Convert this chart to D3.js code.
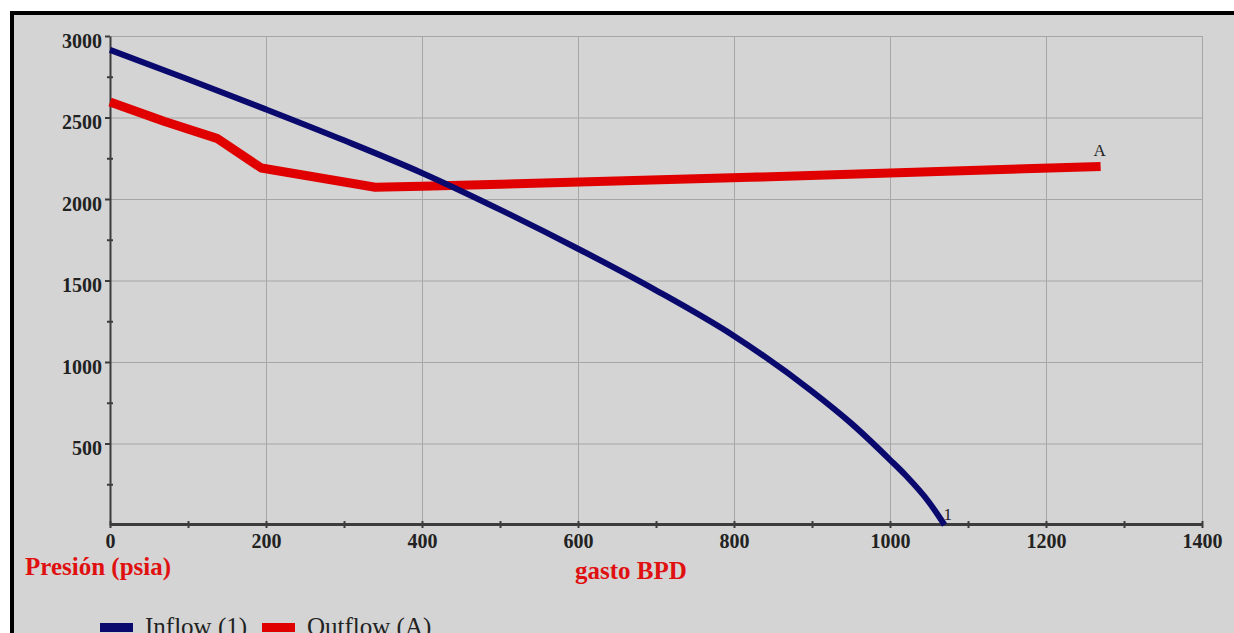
<!DOCTYPE html>
<html>
<head>
<meta charset="utf-8">
<script src="https://cdn.jsdelivr.net/npm/d3@7"></script>
<style>
  body { margin: 0; background: #fff; }
  svg { display: block; }
  .axis path, .axis line { stroke: #3c3c3c; }
  .grid line { stroke: #a6a6a6; stroke-width: 1; }
  .grid path { stroke: none; }
  text { font-family: "Liberation Serif", "Times New Roman", serif; }
</style>
</head>
<body>
<svg id="chart" width="1234" height="633"></svg>
<script>
// inflow curve (IPR) - gasto BPD vs presion psia
var inflowQ = [0, 100, 200, 300, 400, 500, 600, 700, 800, 900, 950, 1000, 1020, 1050, 1070];
var inflowP = [2915, 2735, 2550, 2360, 2160, 1935, 1695, 1440, 1160, 820, 625, 400, 305, 140, 0];

// outflow curve
var outflowQ = [0, 70, 137, 194, 340, 400, 820, 1270];
var outflowP = [2595, 2475, 2372, 2190, 2072, 2078, 2133, 2200];

var xTicks = [0, 200, 400, 600, 800, 1000, 1200, 1400];
var xMinor = [100, 300, 500, 700, 900, 1100, 1300];
var yTicks = [500, 1000, 1500, 2000, 2500, 3000];
var yMinor = [250, 750, 1250, 1750, 2250, 2750];

var svg = d3.select("#chart");

// background and frame
svg.append("rect").attr("x", 14).attr("y", 15).attr("width", 1220).attr("height", 618).attr("fill", "#d4d4d4");
svg.append("rect").attr("x", 10).attr("y", 11).attr("width", 1224).attr("height", 4).attr("fill", "#000");
svg.append("rect").attr("x", 10).attr("y", 11).attr("width", 4).attr("height", 622).attr("fill", "#000");

var x = d3.scaleLinear().domain([0, 1400]).range([110, 1202]);
var y = d3.scaleLinear().domain([0, 3000]).range([525, 36]);
var fmt = d3.format("d");

// grid
svg.append("g")
    .attr("class", "grid")
    .attr("transform", "translate(0,525)")
    .call(d3.axisBottom(x).tickValues(xTicks.slice(1)).tickSize(-489).tickFormat(""));
svg.append("g")
    .attr("class", "grid")
    .attr("transform", "translate(110,0)")
    .call(d3.axisLeft(y).tickValues(yTicks).tickSize(-1092).tickFormat(""));

// y axis
var yAxis = svg.append("g")
    .attr("class", "axis")
    .attr("transform", "translate(110,0)")
    .call(d3.axisLeft(y).tickValues(yTicks).tickSizeInner(5).tickSizeOuter(0).tickPadding(3).tickFormat(fmt));
yAxis.select(".domain").attr("stroke-width", 2);
yAxis.selectAll("line").attr("stroke-width", 2);
yAxis.selectAll("text")
    .attr("font-size", 20).attr("font-weight", "bold").attr("fill", "#222")
    .attr("dy", "0.55em");

svg.append("g")
    .attr("class", "axis")
    .attr("transform", "translate(113,0)")
    .call(d3.axisLeft(y).tickValues(yMinor).tickSize(6).tickFormat(""))
    .call(function(g) { g.select(".domain").remove(); })
    .selectAll("line").attr("stroke-width", 2);

// x axis
var xAxis = svg.append("g")
    .attr("class", "axis")
    .attr("transform", "translate(0,524)")
    .call(d3.axisBottom(x).tickValues(xTicks).tickSizeInner(4).tickSizeOuter(0).tickPadding(6).tickFormat(fmt));
xAxis.select(".domain").attr("stroke-width", 3);
xAxis.selectAll("line").attr("stroke-width", 2).attr("y1", -3);
xAxis.selectAll("text")
    .attr("font-size", 20).attr("font-weight", "bold").attr("fill", "#222");

svg.append("g")
    .attr("class", "axis")
    .attr("transform", "translate(0,521)")
    .call(d3.axisBottom(x).tickValues(xMinor).tickSize(7).tickFormat(""))
    .call(function(g) { g.select(".domain").remove(); })
    .selectAll("line").attr("stroke-width", 2);

// curves
var line = d3.line()
    .x(function(d) { return x(d[0]); })
    .y(function(d) { return y(d[1]); })
    .curve(d3.curveMonotoneX);

var inflow = inflowQ.map(function(q, i) { return [q, inflowP[i]]; });
var outflow = outflowQ.map(function(q, i) { return [q, outflowP[i]]; });

svg.append("path")
    .datum(outflow)
    .attr("d", d3.line().x(function(d) { return x(d[0]); }).y(function(d) { return y(d[1]); }))
    .attr("fill", "none")
    .attr("stroke", "#e00000")
    .attr("stroke-width", 9)
    .attr("stroke-linejoin", "round");

svg.append("path")
    .datum(inflow)
    .attr("d", line)
    .attr("fill", "none")
    .attr("stroke", "#0a0a6e")
    .attr("stroke-width", 6);

// curve labels
var lastIn = inflow[inflow.length - 1];
var lastOut = outflow[outflow.length - 1];
svg.append("text")
    .attr("x", x(lastIn[0]) - 1).attr("y", y(lastIn[1]) - 5)
    .attr("font-size", 17).attr("fill", "#222").text("1");
svg.append("text")
    .attr("x", x(lastOut[0]) - 1).attr("y", y(lastOut[1]) - 10)
    .attr("text-anchor", "middle")
    .attr("font-size", 17).attr("fill", "#222").text("A");

// axis titles
svg.append("text")
    .attr("x", 25).attr("y", 575)
    .attr("font-size", 25).attr("font-weight", "bold").attr("fill", "#e01010")
    .text("Presión (psia)");
svg.append("text")
    .attr("x", 575).attr("y", 579)
    .attr("font-size", 25).attr("font-weight", "bold").attr("fill", "#e01010")
    .text("gasto BPD");

// legend (cut by the bottom edge, as in the original)
var legend = [
  { name: "Inflow (1)", color: "#0a0a6e", x: 100 },
  { name: "Outflow (A)", color: "#e00000", x: 262 }
];
var lg = svg.selectAll(".legend").data(legend).enter().append("g").attr("class", "legend");
lg.append("rect")
    .attr("x", function(d) { return d.x; }).attr("y", 623)
    .attr("width", 33).attr("height", 9)
    .attr("fill", function(d) { return d.color; });
lg.append("text")
    .attr("x", function(d) { return d.x + 45; }).attr("y", 635)
    .attr("font-size", 25).attr("fill", "#222")
    .text(function(d) { return d.name; });
</script>
</body>
</html>
